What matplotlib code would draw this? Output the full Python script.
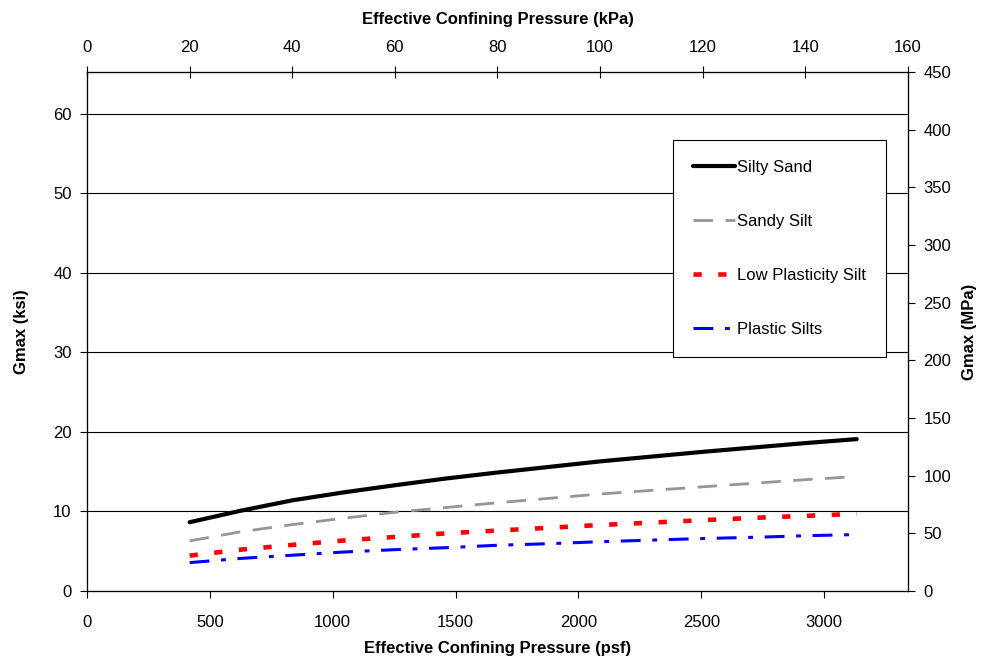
import matplotlib
matplotlib.use("Agg")
import matplotlib.pyplot as plt
import numpy as np

plt.rcParams["font.family"] = ["Liberation Sans", "DejaVu Sans"]

# confining pressure in kPa, converted to psf for the lower axis
p_kpa = [20, 30, 40, 50, 60, 70, 80, 90, 100, 110, 120, 130, 140, 150]
KPA_TO_PSF = 20.885

silty_sand = [8.65, 10.1, 11.4, 12.4, 13.3, 14.15, 14.9, 15.6, 16.3, 16.9, 17.5, 18.05, 18.6, 19.1]
sandy_silt = [6.3, 7.45, 8.35, 9.15, 9.9, 10.5, 11.1, 11.65, 12.2, 12.65, 13.1, 13.55, 14.0, 14.4]
low_plast = [4.45, 5.2, 5.8, 6.35, 6.8, 7.25, 7.6, 7.95, 8.3, 8.6, 8.9, 9.2, 9.45, 9.7]
plastic = [3.57, 4.1, 4.5, 4.9, 5.2, 5.45, 5.75, 5.95, 6.2, 6.4, 6.6, 6.75, 6.95, 7.1]

names = ["Silty Sand", "Sandy Silt", "Low Plasticity Silt", "Plastic Silts"]

KSI_TO_MPA = 6.895
kpa_max = 160
mpa_max = 450

psf = np.array(p_kpa) * KPA_TO_PSF

fig = plt.figure(figsize=(9.82, 6.59), dpi=100)
ax = fig.add_axes([87 / 982, 68 / 659, 821 / 982, 519 / 659])

ax.plot(psf, silty_sand, color="black", lw=3.0, solid_capstyle="round", label=names[0], zorder=5)
ax.plot(psf, sandy_silt, color="#969696", lw=2.0, dashes=(7, 4.5), label=names[1], zorder=4)
ax.plot(psf, low_plast, color="#ff0000", lw=3.3, dashes=(1.8, 3.6), label=names[2], zorder=4)
ax.plot(psf, plastic, color="#0000ff", lw=2.2, dashes=(6.5, 3.8, 1.6, 3.8), label=names[3], zorder=4)

ax.set_xlim(0, kpa_max * KPA_TO_PSF)
ax.set_ylim(0, mpa_max / KSI_TO_MPA)
ax.set_xticks(np.arange(0, 3001, 500))
ax.set_yticks(np.arange(0, 61, 10))
for v in range(10, 61, 10):
    ax.axhline(v, color="black", lw=0.8, zorder=1)

ax.tick_params(direction="out", length=5, width=0.8, labelsize=12, pad=6)
ax.tick_params(axis="x", pad=12)
ax.set_xlabel("Effective Confining Pressure (psf)", fontsize=12, fontweight="bold", labelpad=8)
ax.set_ylabel("Gmax (ksi)", fontsize=12, fontweight="bold", labelpad=17)

ax_top = ax.twiny()
ax_top.set_xlim(0, kpa_max)
ax_top.set_xticks(np.arange(0, 161, 20))
ax_top.tick_params(direction="inout", length=9, width=0.8, labelsize=12, pad=8)
ax_top.set_xlabel("Effective Confining Pressure (kPa)", fontsize=12, fontweight="bold", labelpad=11)

ax_r = ax.twinx()
ax_r.set_ylim(0, mpa_max)
ax_r.set_yticks(np.arange(0, 451, 50))
ax_r.tick_params(direction="out", length=5, width=0.8, labelsize=12, pad=6)
ax_r.set_ylabel("Gmax (MPa)", fontsize=12, fontweight="bold", labelpad=8)

for a in (ax, ax_top, ax_r):
    for s in a.spines.values():
        s.set_linewidth(0.8)

leg = ax.legend(loc="upper left", bbox_to_anchor=(673 / 982, 1 - 140 / 659),
                bbox_transform=fig.transFigure, borderaxespad=0, fontsize=12,
                handlelength=2.5, handletextpad=0.15, labelspacing=2.33,
                borderpad=1.2, fancybox=False, framealpha=1, edgecolor="black")
leg.get_frame().set_linewidth(0.8)
leg.set_zorder(10)

fig.savefig("out.png", dpi=100)
